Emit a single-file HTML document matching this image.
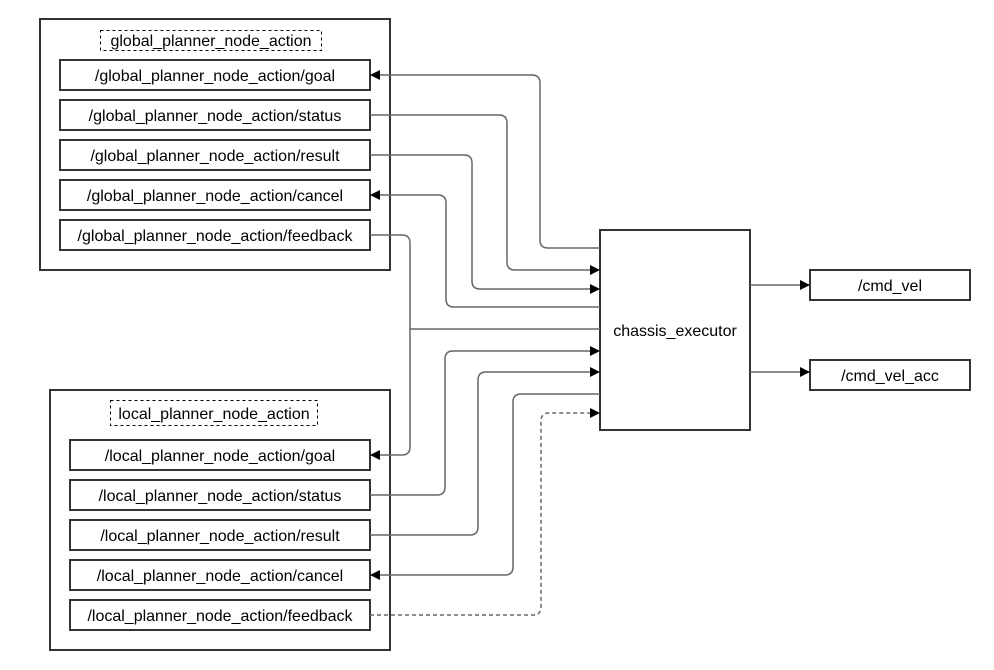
<!DOCTYPE html>
<html><head><meta charset="utf-8"><style>
html,body{margin:0;padding:0;background:#fff;}
svg{display:block;}
text{font-family:"Liberation Sans",sans-serif;font-size:16px;fill:#000;}
</style></head><body>
<svg width="994" height="670" viewBox="0 0 994 670" xmlns="http://www.w3.org/2000/svg">
<defs>
<marker id="a" markerWidth="10" markerHeight="10" refX="9" refY="5" orient="auto" markerUnits="userSpaceOnUse">
<path d="M0,0 L10,5 L0,10 z" fill="#000"/></marker>
</defs>
<g fill="none" stroke="#333" stroke-width="2">
<rect x="40" y="19" width="350" height="251"/>
<rect x="50" y="390" width="340" height="260"/>
<rect x="60" y="60" width="310" height="30"/>
<rect x="60" y="100" width="310" height="30"/>
<rect x="60" y="140" width="310" height="30"/>
<rect x="60" y="180" width="310" height="30"/>
<rect x="60" y="220" width="310" height="30"/>
<rect x="70" y="440" width="300" height="30"/>
<rect x="70" y="480" width="300" height="30"/>
<rect x="70" y="520" width="300" height="30"/>
<rect x="70" y="560" width="300" height="30"/>
<rect x="70" y="600" width="300" height="30"/>
<rect x="600" y="230" width="150" height="200"/>
<rect x="810" y="270" width="160" height="30"/>
<rect x="810" y="360" width="160" height="30"/>
</g>
<g fill="none" stroke="#000" stroke-width="1" stroke-dasharray="3,3">
<rect x="100.5" y="30.5" width="221" height="20"/>
<rect x="110.5" y="400.5" width="207" height="25"/>
</g>
<g fill="none" stroke="#666" stroke-width="1.5">
<path d="M600,248 H548 Q540,248 540,240 V83 Q540,75 532,75 H371" marker-end="url(#a)"/>
<path d="M370,115 H499 Q507,115 507,123 V262 Q507,270 515,270 H599" marker-end="url(#a)"/>
<path d="M370,155 H464 Q472,155 472,163 V281 Q472,289 480,289 H599" marker-end="url(#a)"/>
<path d="M600,307 H454 Q446,307 446,299 V203 Q446,195 438,195 H371" marker-end="url(#a)"/>
<path d="M370,235 H402 Q410,235 410,243 V447 Q410,455 402,455 H371" marker-end="url(#a)"/>
<path d="M410,329 H600"/>
<path d="M370,495 H437 Q445,495 445,487 V359 Q445,351 453,351 H599" marker-end="url(#a)"/>
<path d="M370,535 H470 Q478,535 478,527 V380 Q478,372 486,372 H599" marker-end="url(#a)"/>
<path d="M600,394 H521 Q513,394 513,402 V567 Q513,575 505,575 H371" marker-end="url(#a)"/>
<path d="M370,615 H533 Q541,615 541,607 V421 Q541,413 549,413 H599" stroke-dasharray="4,3" marker-end="url(#a)"/>
<path d="M750,285 H809" marker-end="url(#a)"/>
<path d="M750,372 H809" marker-end="url(#a)"/>
</g>
<g text-anchor="middle">
<text x="211" y="46">global_planner_node_action</text>
<text x="215" y="81">/global_planner_node_action/goal</text>
<text x="215" y="121">/global_planner_node_action/status</text>
<text x="215" y="161">/global_planner_node_action/result</text>
<text x="215" y="201">/global_planner_node_action/cancel</text>
<text x="215" y="241">/global_planner_node_action/feedback</text>
<text x="214" y="419">local_planner_node_action</text>
<text x="220" y="461">/local_planner_node_action/goal</text>
<text x="220" y="501">/local_planner_node_action/status</text>
<text x="220" y="541">/local_planner_node_action/result</text>
<text x="220" y="581">/local_planner_node_action/cancel</text>
<text x="220" y="621">/local_planner_node_action/feedback</text>
<text x="675" y="336">chassis_executor</text>
<text x="890" y="291">/cmd_vel</text>
<text x="890" y="381">/cmd_vel_acc</text>
</g>
</svg>
</body></html>
